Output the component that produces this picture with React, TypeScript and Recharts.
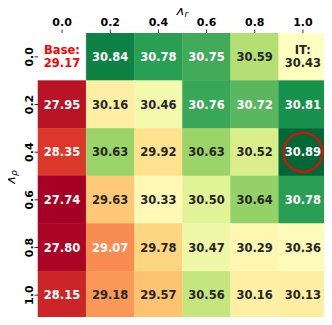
import { BarChart, Bar, XAxis, YAxis, ReferenceDot, Label } from 'recharts';

const lambdaR = ['0.0', '0.2', '0.4', '0.6', '0.8', '1.0'];
const lambdaRho = ['0.0', '0.2', '0.4', '0.6', '0.8', '1.0'];

// one array per lambda_rho row, columns follow lambdaR
const rho00 = [29.17, 30.84, 30.78, 30.75, 30.59, 30.43];
const rho02 = [27.95, 30.16, 30.46, 30.76, 30.72, 30.81];
const rho04 = [28.35, 30.63, 29.92, 30.63, 30.52, 30.89];
const rho06 = [27.74, 29.63, 30.33, 30.5, 30.64, 30.78];
const rho08 = [27.8, 29.07, 29.78, 30.47, 30.29, 30.36];
const rho10 = [28.15, 29.18, 29.57, 30.56, 30.16, 30.13];

const rows = [rho00, rho02, rho04, rho06, rho08, rho10];
const itScore = 30.43; // colour centre
const bestCell = { lr: '1.0', row: 2 };

const FONT = 'DejaVu Sans';
const DARK = '#262626';

const allValues = rows.flat();
const vmin = Math.min(...allValues);
const vmax = Math.max(...allValues);

// RdYlGn, 11 stops
const RDYLGN = [
  '#a50026', '#d73027', '#f46d43', '#fdae61', '#fee08b', '#ffffbf',
  '#d9ef8b', '#a6d96a', '#66bd63', '#1a9850', '#006837',
];

const hexToRgb = (h: string) => [1, 3, 5].map((i) => parseInt(h.slice(i, i + 2), 16));

function colourOf(v: number) {
  // two-slope norm around the IT score
  let t = v < itScore ? 0.5 * (v - vmin) / (itScore - vmin) : 0.5 + 0.5 * (v - itScore) / (vmax - itScore);
  t = Math.max(0, Math.min(1, t));
  const pos = t * 10;
  const i = Math.min(9, Math.floor(pos));
  const f = pos - i;
  const a = hexToRgb(RDYLGN[i]);
  const b = hexToRgb(RDYLGN[i + 1]);
  return a.map((c, k) => Math.round(c + (b[k] - c) * f));
}

function textColour(rgb: number[]) {
  const lin = rgb.map((c) => {
    const s = c / 255;
    return s <= 0.03928 ? s / 12.92 : Math.pow((s + 0.055) / 1.055, 2.4);
  });
  const lum = 0.2126 * lin[0] + 0.7152 * lin[1] + 0.0722 * lin[2];
  return lum > 0.408 ? DARK : '#ffffff';
}

const chartData = lambdaR.map((lr, j) => {
  const d: Record<string, any> = { lr };
  rows.forEach((r, i) => {
    d[`c${i}`] = 1;
    d[`v${i}`] = r[j];
  });
  return d;
});

function HeatCell(props: any) {
  const { x, y, width, height, payload, row } = props;
  const top = Math.min(y, y + height);
  const h = Math.abs(height);
  const cx = x + width / 2;
  const cy = top + h / 2;
  const v: number = payload[`v${row}`];
  const col = lambdaR.indexOf(payload.lr);
  const txt = { fontFamily: FONT, fontWeight: 'bold', fontSize: 11.5, textAnchor: 'middle' as const };

  const isBase = row === 0 && col === 0;
  const isIT = row === 0 && col === lambdaR.length - 1;
  const rgb = colourOf(v);
  const fill = isBase ? '#ffffff' : `rgb(${rgb.join(',')})`;
  const fg = isBase ? '#ff0000' : textColour(rgb);

  return (
    <g>
      <rect x={x} y={top} width={width} height={h} fill={fill} stroke={fill} strokeWidth={0.5} />
      {isBase || isIT ? (
        <text x={cx} y={cy - 3} fill={fg} {...txt}>
          {isBase ? 'Base:' : 'IT:'}
          <tspan x={cx} dy={13.2}>{v.toFixed(2)}</tspan>
        </text>
      ) : (
        <text x={cx} y={cy + 4.2} fill={fg} {...txt}>{v.toFixed(2)}</text>
      )}
    </g>
  );
}

const RhoTick = ({ x, y, payload }: any) => (
  <text
    transform={`translate(${x},${y}) rotate(-90)`}
    textAnchor="middle"
    fontFamily={FONT}
    fontWeight="bold"
    fontSize={11}
    fill="#000"
  >
    {lambdaRho[Math.floor(payload.value)]}
  </text>
);

const TopTitle = ({ viewBox }: any) => (
  <text
    x={viewBox.x + viewBox.width / 2}
    y={viewBox.y + 2}
    textAnchor="middle"
    fontFamily={FONT}
    fontStyle="italic"
    fontSize={13}
    fill="#000"
  >
    λ<tspan fontSize={9} dy={1.5}>r</tspan>
  </text>
);

const SideTitle = ({ viewBox }: any) => (
  <text
    transform={`translate(${viewBox.x + 2},${viewBox.y + viewBox.height / 2 + 1}) rotate(-90)`}
    textAnchor="middle"
    fontFamily={FONT}
    fontStyle="italic"
    fontSize={13}
    fill="#000"
  >
    λ<tspan fontSize={9} dy={1.5}>ρ</tspan>
  </text>
);

export default function App() {
  return (
    <div style={{ margin: -8, width: 332, height: 325, background: '#fff' }}>
      <BarChart
        width={332}
        height={325}
        data={chartData}
        margin={{ top: 13, right: 5, bottom: 6, left: 13 }}
        barCategoryGap={0}
        barGap={0}
      >
        <XAxis
          dataKey="lr"
          orientation="top"
          height={20}
          axisLine={false}
          tickSize={3.5}
          tickMargin={3.5}
          tickLine={{ stroke: '#000', strokeWidth: 0.8 }}
          tick={{ fontFamily: FONT, fontWeight: 'bold', fontSize: 11, fill: '#000' }}
          interval={0}
        >
          <Label content={<TopTitle />} />
        </XAxis>
        <YAxis
          type="number"
          domain={[0, 6]}
          reversed
          ticks={[0.5, 1.5, 2.5, 3.5, 4.5, 5.5]}
          width={25}
          axisLine={false}
          tickSize={3.5}
          tickMargin={2}
          tickLine={{ stroke: '#000', strokeWidth: 0.8 }}
          tick={<RhoTick />}
          allowDataOverflow
        >
          <Label content={<SideTitle />} />
        </YAxis>
        {rows.map((_, i) => (
          <Bar
            key={i}
            dataKey={`c${i}`}
            stackId="grid"
            isAnimationActive={false}
            shape={(p: any) => <HeatCell {...p} row={i} />}
          />
        ))}
        <ReferenceDot
          x={bestCell.lr}
          y={bestCell.row + 0.5}
          r={19.5}
          fill="none"
          stroke="#ff0000"
          strokeWidth={2}
          ifOverflow="visible"
        />
      </BarChart>
    </div>
  );
}
